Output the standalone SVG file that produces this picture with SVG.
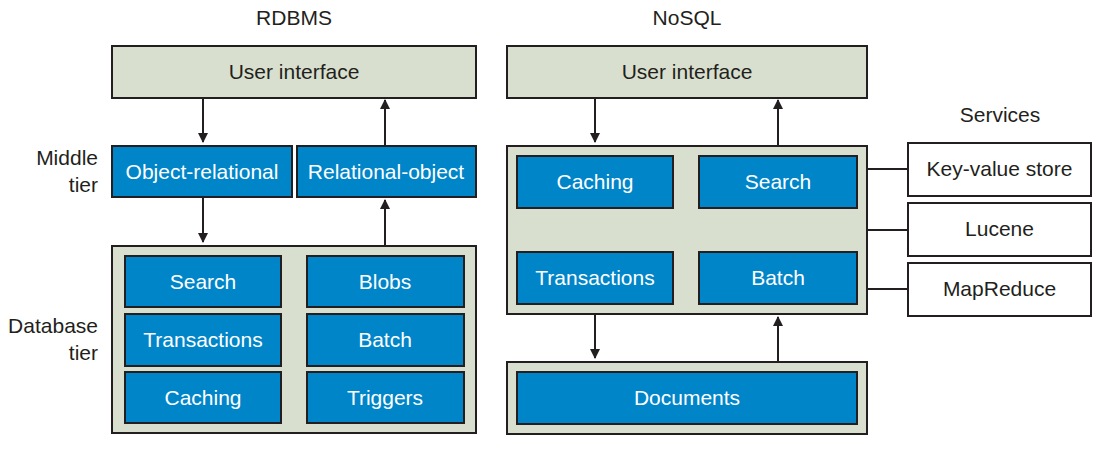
<svg xmlns="http://www.w3.org/2000/svg" width="1105" height="450" viewBox="0 0 1105 450">
<style>
text{font-family:"Liberation Sans",Arial,sans-serif;font-size:21px;fill:#231f20;text-anchor:middle}
.g{fill:#d9dfce;stroke:#231f20;stroke-width:2}
.b{fill:#0085c9;stroke:#231f20;stroke-width:2}
.w{fill:#fff;stroke:#231f20;stroke-width:2}
.b+text,.bt{fill:#fff}
.lbl{text-anchor:end}
.c line{stroke:#231f20;stroke-width:2}
</style>
<defs>
<marker id="ah" markerUnits="userSpaceOnUse" markerWidth="10" markerHeight="12" refX="9" refY="5" orient="auto">
<path d="M0,0 L10,5 L0,10 Z" fill="#231f20"/>
</marker>
</defs>
<rect width="1105" height="450" fill="#fff"/>
<text x="294" y="25">RDBMS</text>
<text x="687" y="25">NoSQL</text>
<text x="1000" y="122">Services</text>
<text class="lbl" x="98" y="165">Middle</text>
<text class="lbl" x="98" y="192">tier</text>
<text class="lbl" x="98" y="333">Database</text>
<text class="lbl" x="98" y="360">tier</text>

<g id="r-ui"><rect class="g" x="112" y="46" width="364" height="52"/><text x="294" y="79">User interface</text></g>
<g id="r-or"><rect class="b" x="112" y="146" width="180" height="51"/><text class="bt" x="202" y="179">Object-relational</text></g>
<g id="r-ro"><rect class="b" x="297" y="146" width="179" height="51"/><text class="bt" x="386" y="179">Relational-object</text></g>
<g id="r-db"><rect class="g" x="112" y="246" width="364" height="187"/>
<rect class="b" x="125" y="256" width="156" height="51"/><text class="bt" x="203" y="289">Search</text>
<rect class="b" x="307" y="256" width="157" height="51"/><text class="bt" x="385" y="289">Blobs</text>
<rect class="b" x="125" y="314" width="156" height="52"/><text class="bt" x="203" y="347">Transactions</text>
<rect class="b" x="307" y="314" width="157" height="52"/><text class="bt" x="385" y="347">Batch</text>
<rect class="b" x="125" y="372" width="156" height="51"/><text class="bt" x="203" y="405">Caching</text>
<rect class="b" x="307" y="372" width="157" height="51"/><text class="bt" x="385" y="405">Triggers</text>
</g>

<g id="n-ui"><rect class="g" x="507" y="46" width="360" height="52"/><text x="687" y="79">User interface</text></g>
<g id="n-mid"><rect class="g" x="507" y="146" width="360" height="168"/>
<rect class="b" x="517" y="156" width="156" height="52"/><text class="bt" x="595" y="189">Caching</text>
<rect class="b" x="699" y="156" width="158" height="52"/><text class="bt" x="778" y="189">Search</text>
<rect class="b" x="517" y="252" width="156" height="52"/><text class="bt" x="595" y="285">Transactions</text>
<rect class="b" x="699" y="252" width="158" height="52"/><text class="bt" x="778" y="285">Batch</text>
</g>
<g id="n-doc"><rect class="g" x="507" y="362" width="360" height="72"/>
<rect class="b" x="517" y="372" width="340" height="52"/><text class="bt" x="687" y="405">Documents</text>
</g>
<g id="s-kv"><rect class="w" x="908" y="143" width="183" height="53"/><text x="999.5" y="176">Key-value store</text></g>
<g id="s-lu"><rect class="w" x="908" y="203" width="183" height="53"/><text x="999.5" y="236">Lucene</text></g>
<g id="s-mr"><rect class="w" x="908" y="263" width="183" height="53"/><text x="999.5" y="296">MapReduce</text></g>

<g id="connectors" class="c">
<line x1="203" y1="98" x2="203" y2="142" marker-end="url(#ah)"/>
<line x1="385" y1="146" x2="385" y2="100" marker-end="url(#ah)"/>
<line x1="203" y1="197" x2="203" y2="242" marker-end="url(#ah)"/>
<line x1="385" y1="246" x2="385" y2="200" marker-end="url(#ah)"/>
<line x1="595" y1="98" x2="595" y2="142" marker-end="url(#ah)"/>
<line x1="778" y1="146" x2="778" y2="100" marker-end="url(#ah)"/>
<line x1="595" y1="314" x2="595" y2="358" marker-end="url(#ah)"/>
<line x1="778" y1="362" x2="778" y2="317" marker-end="url(#ah)"/>
<line x1="867" y1="169" x2="908" y2="169"/>
<line x1="867" y1="230" x2="908" y2="230"/>
<line x1="867" y1="289" x2="908" y2="289"/>
</g>
</svg>
